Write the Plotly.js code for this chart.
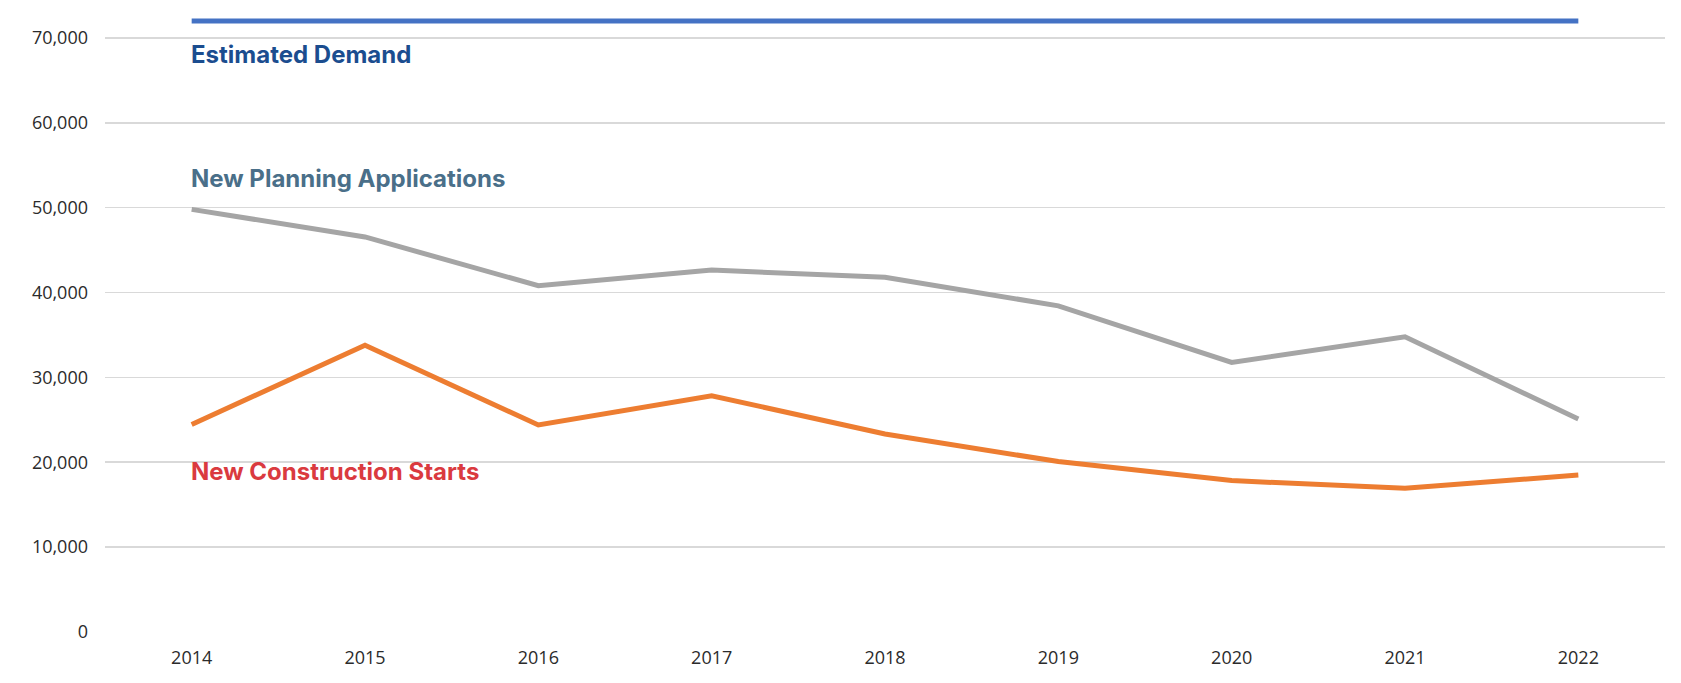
<!DOCTYPE html>
<html>
<head>
<meta charset="utf-8">
<script src="https://cdn.plot.ly/plotly-3.0.1.min.js"></script>
<style>
  html, body { margin: 0; padding: 0; background: #ffffff; }
  #chart { width: 1681px; height: 683px; }
</style>
</head>
<body>
<div id="chart"></div>
<script>
// Data
const years = ['2014', '2015', '2016', '2017', '2018', '2019', '2020', '2021', '2022'];
const estimatedDemand = [72000, 72000, 72000, 72000, 72000, 72000, 72000, 72000, 72000];
const planningApplications = [49800, 46550, 40800, 42650, 41800, 38430, 31760, 34780, 25100];
const constructionStarts = [24450, 33800, 24400, 27840, 23330, 20080, 17840, 16940, 18500];
const yTicks = [0, 10000, 20000, 30000, 40000, 50000, 60000, 70000];
const yTickText = ['0', '10,000', '20,000', '30,000', '40,000', '50,000', '60,000', '70,000'];

const traces = [
  { x: years, y: planningApplications, type: 'scatter', mode: 'lines',
    line: { color: '#A5A5A5', width: 5 }, name: 'New Planning Applications', hoverinfo: 'x+y' },
  { x: years, y: constructionStarts, type: 'scatter', mode: 'lines',
    line: { color: '#ED7D31', width: 5 }, name: 'New Construction Starts', hoverinfo: 'x+y' },
  { x: years, y: estimatedDemand, type: 'scatter', mode: 'lines',
    line: { color: '#4472C4', width: 5 }, name: 'Estimated Demand', hoverinfo: 'x+y' }
];

const labelFont = { family: 'Inter, "Noto Sans", sans-serif', size: 24, weight: 700 };

const layout = {
  width: 1681, height: 683,
  margin: { l: 105, r: 16, t: 4, b: 51, pad: 0 },
  paper_bgcolor: '#ffffff', plot_bgcolor: '#ffffff',
  showlegend: false,
  font: { family: '"Open Sans", sans-serif', size: 18, color: '#2b2b2b' },
  xaxis: {
    type: 'category', range: [-0.5, 8.5],
    showgrid: false, zeroline: false, showline: false,
    ticks: '', ticklabelstandoff: 13,
    tickfont: { family: '"Open Sans", sans-serif', size: 18, color: '#2b2b2b' }
  },
  yaxis: {
    range: [0, 74000], tickvals: yTicks, ticktext: yTickText,
    showgrid: true, gridcolor: '#d9d9d9', gridwidth: 1.6,
    zeroline: false, showline: false, ticks: '', ticklabelstandoff: 16,
    tickfont: { family: '"Open Sans", sans-serif', size: 18, color: '#2b2b2b' }
  },
  annotations: [
    { x: 0, y: 68100, xref: 'x', yref: 'y', xanchor: 'left', yanchor: 'middle', xshift: -3,
      text: 'Estimated Demand', showarrow: false, font: Object.assign({}, labelFont, { color: '#1B4D8F' }) },
    { x: 0, y: 53400, xref: 'x', yref: 'y', xanchor: 'left', yanchor: 'middle', xshift: -3,
      text: 'New Planning Applications', showarrow: false, font: Object.assign({}, labelFont, { color: '#4A6F89' }) },
    { x: 0, y: 18900, xref: 'x', yref: 'y', xanchor: 'left', yanchor: 'middle', xshift: -3,
      text: 'New Construction Starts', showarrow: false, font: Object.assign({}, labelFont, { color: '#DA3A3F' }) }
  ]
};

Plotly.newPlot('chart', traces, layout, { displayModeBar: false, staticPlot: true });
</script>
</body>
</html>
